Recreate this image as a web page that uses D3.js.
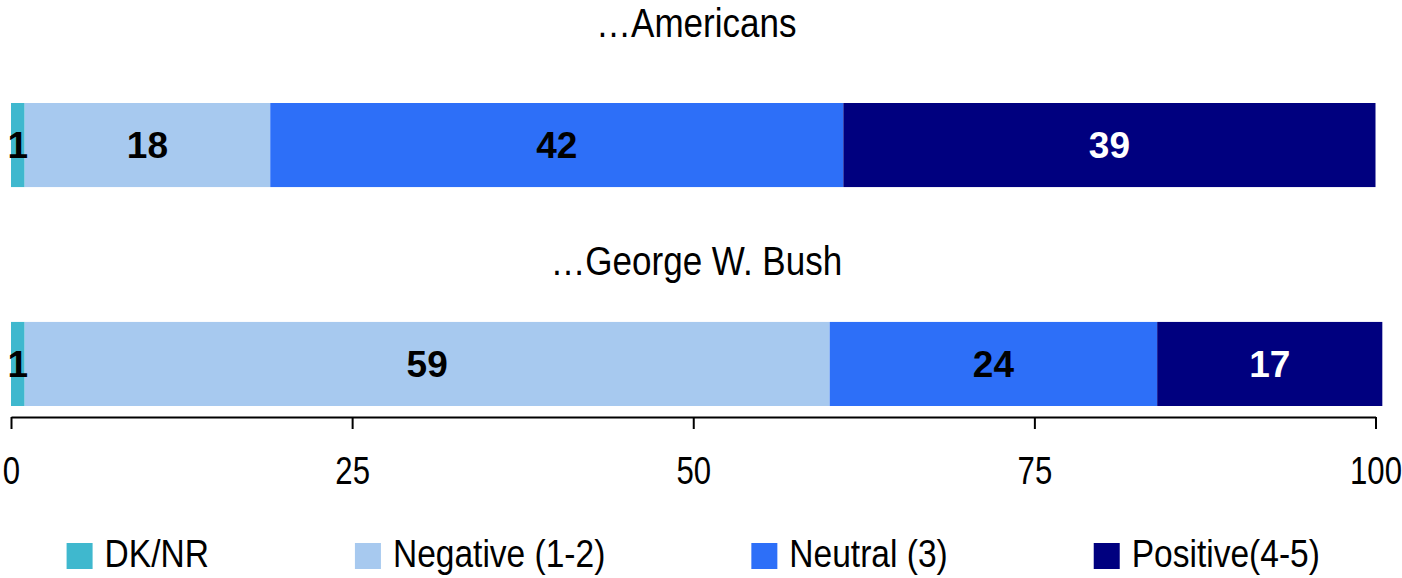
<!DOCTYPE html>
<html><head><meta charset="utf-8">
<script src="https://cdn.jsdelivr.net/npm/d3@7"></script>
<style>
html,body{margin:0;padding:0;background:#fff;}
svg{display:block;font-family:"Liberation Sans",Arial,sans-serif;}
</style></head>
<body>
<svg id="chart" width="1402" height="578"></svg>
<script>
// ---- data ----
const groups = ["…Americans", "…George W. Bush"];
const categories = ["DK/NR", "Negative (1-2)", "Neutral (3)", "Positive(4-5)"];
const americansValues = [1, 18, 42, 39];
const bushValues = [1, 59, 24, 16.5];
const tickValues = [0, 25, 50, 75, 100];
const colors = ["#3fb8ce", "#a7c9ef", "#2d6ff8", "#00007f"];
const labelColors = ["#000", "#000", "#000", "#fff"];

const seriesByGroup = [americansValues, bushValues];

const svg = d3.select("#chart");
const x = d3.scaleLinear().domain([0, 100]).range([11, 1375.5]);
const y = d3.scaleBand().domain(groups).range([103, 406]).paddingInner(0.616).paddingOuter(0);
const titleY = [37, 275];
const squeeze = 0.86;

// titles
groups.forEach((g, i) => {
  svg.append("text")
    .attr("transform", `translate(${(x(0)+x(100))/2 + 3},${titleY[i]}) scale(0.875,1)`)
    .attr("text-anchor", "middle")
    .attr("font-size", 40)
    .attr("fill", "#000")
    .text(g);
});

// bars
groups.forEach((g, gi) => {
  const vals = seriesByGroup[gi];
  let cum = 0;
  const segs = vals.map((v, ci) => { const s = {g, ci, v, x0: cum, x1: cum + v}; cum += v; return s; });
  const row = svg.append("g");
  row.selectAll("rect").data(segs).join("rect")
    .attr("x", d => x(d.x0))
    .attr("width", d => x(d.x1) - x(d.x0))
    .attr("y", y(g))
    .attr("height", y.bandwidth())
    .attr("fill", d => colors[d.ci]);
  row.selectAll("text").data(segs).join("text")
    .attr("x", d => (x(d.x0) + x(d.x1)) / 2)
    .attr("y", y(g) + y.bandwidth() / 2 + 13)
    .attr("text-anchor", "middle")
    .attr("font-size", 37)
    .attr("font-weight", "bold")
    .attr("fill", d => labelColors[d.ci])
    .text(d => Math.round(d.v));
});

// axis
const axisY = 417;
const axis = d3.axisBottom(x).tickValues(tickValues).tickSize(12).tickSizeOuter(0).tickFormat(d3.format("d"));
const ag = svg.append("g").attr("transform", `translate(0,${axisY})`).call(axis);
ag.select(".domain").attr("stroke", "#000").attr("stroke-width", 2);
ag.selectAll(".tick line").attr("stroke", "#000").attr("stroke-width", 2);
ag.selectAll(".tick text").attr("font-size", 38).attr("font-family", "Liberation Sans, Arial, sans-serif")
  .attr("fill", "#000").attr("y", 0).attr("dy", 0)
  .attr("transform", `translate(0,67) scale(0.82,1)`);

// legend
const lg = svg.append("g");
const sw = 26, sh = 26, gapText = 12, gapItem = 146;
const items = categories.map((c, i) => {
  const g = lg.append("g");
  g.append("rect").attr("width", sw).attr("height", sh).attr("y", -sh + 2).attr("fill", colors[i]);
  const t = g.append("text").attr("font-size", 39).attr("fill", "#000")
    .attr("transform", `translate(${sw + gapText},0) scale(${squeeze},1)`).text(c);
  const w = sw + gapText + t.node().getComputedTextLength() * squeeze;
  return {g, w};
});
const total = d3.sum(items, d => d.w) + gapItem * (items.length - 1);
let lx = (x(0) + x(100)) / 2 - total / 2;
items.forEach(it => { it.g.attr("transform", `translate(${lx},567)`); lx += it.w + gapItem; });
</script>
</body></html>
